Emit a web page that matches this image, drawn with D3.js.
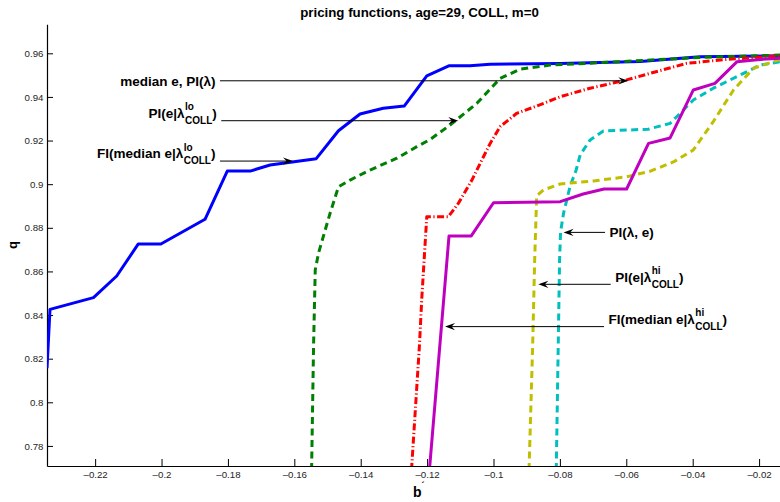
<!DOCTYPE html>
<html>
<head>
<meta charset="utf-8">
<script src="https://cdn.jsdelivr.net/npm/d3@7"></script>
<style>
  html, body { margin: 0; padding: 0; background: #fff; }
  svg { display: block; font-family: "Liberation Sans", Arial, Helvetica, sans-serif; }
</style>
</head>
<body>
<svg id="chart" width="780" height="502"></svg>
<script>
// ---------- data ----------
const titleText = "pricing functions, age=29, COLL, m=0";
const xTicks = [-0.22, -0.2, -0.18, -0.16, -0.14, -0.12, -0.1, -0.08, -0.06, -0.04, -0.02];
const yTicks = [0.78, 0.8, 0.82, 0.84, 0.86, 0.88, 0.9, 0.92, 0.94, 0.96];
const xDomain = [-0.2345, -0.0137];
const yDomain = [0.7708, 0.9733];

// FI(median e | lambda lo) - blue solid
const blueX = [-0.2345, -0.2336, -0.2205, -0.2135, -0.2070, -0.2002, -0.1869, -0.1802, -0.1733, -0.1673, -0.1534, -0.1467, -0.1402, -0.1332, -0.1269, -0.1201, -0.1133, -0.1071, -0.1010, -0.0799, -0.0558, -0.0378, -0.0137];
const blueY = [0.8156, 0.8426, 0.8480, 0.8579, 0.8726, 0.8726, 0.8839, 0.9060, 0.9060, 0.9088, 0.9117, 0.9245, 0.9322, 0.9348, 0.9358, 0.9497, 0.9543, 0.9543, 0.9550, 0.9553, 0.9562, 0.9584, 0.9589];

// PI(e | lambda lo) - green dashed
const greenX = [-0.1548, -0.1542, -0.1537, -0.1527, -0.1507, -0.1492, -0.1467, -0.1432, -0.1372, -0.1291, -0.1231, -0.1191, -0.1131, -0.1050, -0.0980, -0.0920, -0.0830, -0.0679, -0.0378, -0.0137];
const greenY = [0.7690, 0.8263, 0.8607, 0.8685, 0.8790, 0.8868, 0.8988, 0.9019, 0.9065, 0.9119, 0.9172, 0.9205, 0.9271, 0.9371, 0.9485, 0.9527, 0.9546, 0.9557, 0.9581, 0.9592];

// median e, PI(lambda) - red dash-dot
const redX = [-0.1247, -0.1223, -0.1216, -0.1201, -0.1136, -0.1106, -0.1065, -0.1040, -0.1010, -0.0980, -0.0930, -0.0870, -0.0799, -0.0709, -0.0599, -0.0529, -0.0418, -0.0297, -0.0137];
const redY = [0.7690, 0.8263, 0.8478, 0.8851, 0.8851, 0.8912, 0.9019, 0.9096, 0.9187, 0.9264, 0.9325, 0.9358, 0.9401, 0.9440, 0.9478, 0.9508, 0.9554, 0.9572, 0.9588];

// PI(lambda, e) - cyan dashed
const cyanX = [-0.0811, -0.0805, -0.0801, -0.0798, -0.0789, -0.0769, -0.0751, -0.0739, -0.0709, -0.0669, -0.0534, -0.0468, -0.0398, -0.0338, -0.0247, -0.0197, -0.0137];
const cyanY = [0.7690, 0.8263, 0.8652, 0.8781, 0.8867, 0.8992, 0.9065, 0.9134, 0.9203, 0.9244, 0.9252, 0.9279, 0.9386, 0.9440, 0.9508, 0.9546, 0.9561];

// PI(e | lambda hi) - yellow dashed
const yellowX = [-0.0893, -0.0882, -0.0876, -0.0870, -0.0850, -0.0799, -0.0699, -0.0599, -0.0529, -0.0458, -0.0398, -0.0338, -0.0277, -0.0217, -0.0137];
const yellowY = [0.7690, 0.8263, 0.8652, 0.8946, 0.8973, 0.9001, 0.9015, 0.9034, 0.9059, 0.9102, 0.9157, 0.9287, 0.9432, 0.9531, 0.9572];

// FI(median e | lambda hi) - magenta solid
const magentaX = [-0.1193, -0.1134, -0.1067, -0.1000, -0.0799, -0.0730, -0.0667, -0.0599, -0.0533, -0.0468, -0.0398, -0.0333, -0.0267, -0.0197, -0.0137];
const magentaY = [0.7690, 0.8763, 0.8763, 0.8915, 0.8920, 0.8955, 0.8978, 0.8978, 0.9187, 0.9212, 0.9432, 0.9462, 0.9561, 0.9572, 0.9577];

// annotation labels: main text, superscript, subscript, side, arrow tip (x,y), tail x
const annLabels = ["median e, PI(\u03bb)", "PI(e|\u03bb", "FI(median e|\u03bb", "PI(\u03bb, e)", "PI(e|\u03bb", "FI(median e|\u03bb"];
const annSup = ["", "lo", "lo", "", "hi", "hi"];
const annSub = ["", "COLL", "COLL", "", "COLL", "COLL"];
const annSide = ["left", "left", "left", "right", "right", "right"];
const annTipX = [-0.0594, -0.1106, -0.1604, -0.0789, -0.0865, -0.1146];
const annTailX = [-0.1824, -0.1820, -0.1824, -0.0664, -0.0647, -0.0667];
const annY = [0.9474, 0.9291, 0.9106, 0.8779, 0.8541, 0.8347];

// ---------- layout ----------
const svg = d3.select("#chart");
const plotL = 47, plotR = 780, plotT = 24.3, plotB = 466;
const x = d3.scaleLinear().domain(xDomain).range([plotL, plotR]);
const y = d3.scaleLinear().domain(yDomain).range([plotB, plotT]);

const fmt = d => (d < 0 ? "\u2013" : "") + String(+Math.abs(d).toFixed(2));

svg.append("defs").append("clipPath").attr("id", "clip")
  .append("rect").attr("x", plotL).attr("y", plotT).attr("width", plotR - plotL).attr("height", plotB - plotT);

// axes
const xAxis = d3.axisBottom(x).tickValues(xTicks).tickFormat(fmt).tickSizeInner(-7).tickSizeOuter(0).tickPadding(5.4);
const yAxis = d3.axisLeft(y).tickValues(yTicks).tickFormat(fmt).tickSizeInner(-6).tickSizeOuter(0).tickPadding(3.6);

const gx = svg.append("g").attr("transform", `translate(0,${plotB})`).call(xAxis);
const gy = svg.append("g").attr("transform", `translate(${plotL},0)`).call(yAxis);
[gx, gy].forEach(g => {
  g.select(".domain").attr("stroke", "#000").attr("stroke-width", 1.2);
  g.selectAll(".tick line").attr("stroke", "#000").attr("stroke-width", 1);
  g.selectAll(".tick text").attr("fill", "#262626").attr("font-size", 9.7).attr("font-family", "'Liberation Sans', Arial, sans-serif");
});

// series
const series = [
  {xs: blueX, ys: blueY, color: "#0000ff", dash: null},
  {xs: greenX, ys: greenY, color: "#008000", dash: "7,4.5"},
  {xs: redX, ys: redY, color: "#ff0000", dash: "7,2.5,1.2,2.5"},
  {xs: cyanX, ys: cyanY, color: "#00bfbf", dash: "7,4.5"},
  {xs: yellowX, ys: yellowY, color: "#bfbf00", dash: "7,4.5"},
  {xs: magentaX, ys: magentaY, color: "#bf00bf", dash: null}
];
const line = d3.line().x(d => x(d[0])).y(d => y(d[1]));
const gLines = svg.append("g").attr("clip-path", "url(#clip)");
const order = [0, 1, 2, 3, 4, 5];
order.forEach(i => {
  const s = series[i];
  gLines.append("path")
    .datum(s.xs.map((v, k) => [v, s.ys[k]]))
    .attr("d", line)
    .attr("fill", "none")
    .attr("stroke", s.color)
    .attr("stroke-width", 3)
    .attr("stroke-linejoin", "round")
    .attr("stroke-dasharray", s.dash);
});

// title
svg.append("text").attr("x", 419.5).attr("y", 16.5)
  .attr("text-anchor", "middle").attr("font-weight", "bold").attr("font-size", 13.3)
  .attr("fill", "#000").text(titleText);

// axis labels
svg.append("text").attr("transform", "translate(17,245) rotate(-90)")
  .attr("text-anchor", "middle").attr("font-weight", "bold").attr("font-size", 13)
  .attr("fill", "#000").text("q");
const bl = svg.append("text").attr("x", 413).attr("y", 497)
  .attr("font-weight", "bold").attr("font-size", 14).attr("fill", "#000");
bl.append("tspan").text("b");
bl.append("tspan").attr("dy", -9).attr("font-size", 9).text("\u00b4");

// annotations
const arrowHead = "M0,0 L-10,-3.6 L-6.5,0 L-10,3.6 Z";
annLabels.forEach((lab, i) => {
  const yy = y(annY[i]);
  const tipX = x(annTipX[i]);
  const tailX = x(annTailX[i]);
  const dir = tipX > tailX ? 1 : -1;
  svg.append("line").attr("x1", tailX).attr("y1", yy).attr("x2", tipX - dir * 6).attr("y2", yy)
    .attr("stroke", "#000").attr("stroke-width", 1);
  svg.append("path").attr("d", arrowHead)
    .attr("transform", `translate(${tipX},${yy}) rotate(${dir > 0 ? 0 : 180})`)
    .attr("fill", "#000");

  const hasSS = annSup[i] !== "";
  const base = yy + (hasSS ? -2.8 : 4.8);
  const g = svg.append("g").attr("font-weight", "bold").attr("fill", "#000");
  const main = g.append("text").attr("x", 0).attr("y", base).attr("font-size", 13.5).text(lab);
  let w = main.node().getComputedTextLength();
  if (hasSS) {
    const sup = g.append("text").attr("x", w + 0.5).attr("y", base - 7.5).attr("font-size", 10).text(annSup[i]);
    const sub = g.append("text").attr("x", w + 0.5).attr("y", base + 6).attr("font-size", 10).text(annSub[i]);
    const ww = Math.max(sup.node().getComputedTextLength(), sub.node().getComputedTextLength());
    w = w + 0.5 + ww;
    const cp = g.append("text").attr("x", w).attr("y", base).attr("font-size", 13.5).text(")");
    w += cp.node().getComputedTextLength();
  }
  const gap = 4.5;
  const tx = annSide[i] === "left" ? tailX - gap - w : tailX + gap;
  g.attr("transform", `translate(${tx},0)`);
});
</script>
</body>
</html>
